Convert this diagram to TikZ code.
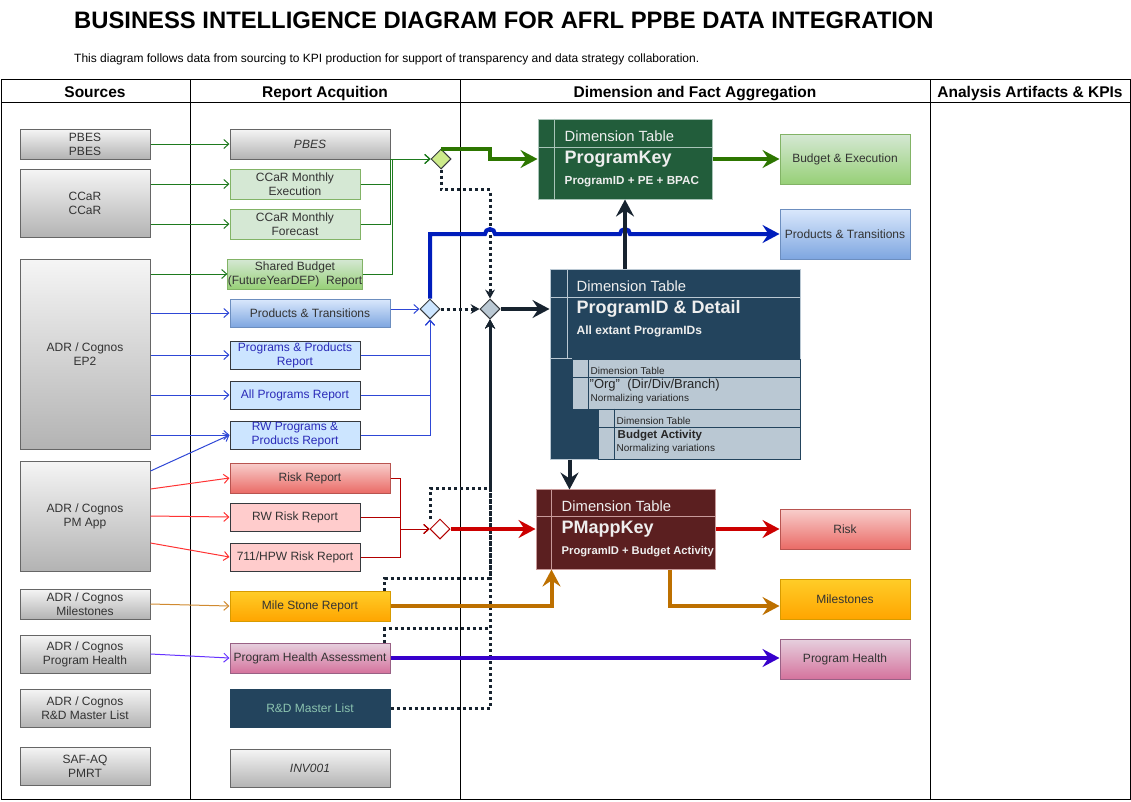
\documentclass[tikz,border=0pt]{standalone}
\usepackage{fontspec}
\setmainfont{Liberation Sans}
\usetikzlibrary{shapes.geometric,arrows.meta,calc}
\definecolor{txt}{HTML}{333333}
\definecolor{gT}{HTML}{F5F5F5}\definecolor{gB}{HTML}{B3B3B3}\definecolor{gD}{HTML}{666666}
\definecolor{grnL}{HTML}{D5E8D4}\definecolor{grnB}{HTML}{82B366}\definecolor{grnD}{HTML}{97D077}
\definecolor{bluL}{HTML}{DAE8FC}\definecolor{bluD}{HTML}{7EA6E0}\definecolor{bluB}{HTML}{6C8EBF}
\definecolor{bluP}{HTML}{CCE5FF}\definecolor{dkB}{HTML}{36393D}
\definecolor{redL}{HTML}{F8CECC}\definecolor{redD}{HTML}{EA6B66}\definecolor{redB}{HTML}{B85450}
\definecolor{redP}{HTML}{FFCCCC}
\definecolor{orL}{HTML}{FFCD28}\definecolor{orD}{HTML}{FFA500}\definecolor{orB}{HTML}{D79B00}
\definecolor{puL}{HTML}{E6D0DE}\definecolor{puD}{HTML}{D5739D}\definecolor{puB}{HTML}{996185}
\definecolor{navy}{HTML}{23445D}\definecolor{slate}{HTML}{BAC8D3}
\definecolor{pkF}{HTML}{225D3B}\definecolor{pkB}{HTML}{A9C4B8}
\definecolor{pmF}{HTML}{5B1F20}\definecolor{pmB}{HTML}{C89A9A}
\definecolor{lineG}{HTML}{1E7A1E}\definecolor{gThick}{HTML}{2D7600}
\definecolor{lineB}{HTML}{2E47D6}\definecolor{bThick}{HTML}{001DBC}
\definecolor{lineR}{HTML}{FF3333}\definecolor{redM}{HTML}{B20000}\definecolor{rThick}{HTML}{CC0000}
\definecolor{lineO}{HTML}{D08A30}\definecolor{oThick}{HTML}{BD7000}
\definecolor{lineP}{HTML}{6633FF}\definecolor{pThick}{HTML}{3700CC}
\definecolor{dark}{HTML}{17232F}\definecolor{rdTxt}{HTML}{8CC4B0}\definecolor{progTxt}{HTML}{2A2AB8}
\definecolor{dimTxt}{HTML}{EEEEEE}\definecolor{limeD}{HTML}{CDEB8B}
\newcommand{\fsA}{\fontsize{12}{14}\selectfont}
\newcommand{\fsS}{\fontsize{10}{11}\selectfont}
\begin{document}
\begin{tikzpicture}[x=1pt,y=-1pt,
  box/.style={draw, inner sep=0pt, align=center, font=\fsA, text=txt, line width=1pt},
  src/.style={box, draw=gD, top color=gT, bottom color=gB, minimum width=130pt},
  grayrep/.style={src, minimum width=160pt, font=\fsA\itshape},
  grnrep/.style={box, draw=grnB, fill=grnL, minimum width=130pt, minimum height=30pt},
  grngrad/.style={box, draw=grnB, top color=grnL, bottom color=grnD},
  blugrad/.style={box, draw=bluB, top color=bluL, bottom color=bluD},
  blurep/.style={box, draw=dkB, fill=bluP, text=progTxt, minimum width=130pt, minimum height=28pt},
  redgrad/.style={box, draw=redB, top color=redL, bottom color=redD},
  redrep/.style={box, draw=dkB, fill=redP, minimum width=130pt, minimum height=28pt},
  orgrad/.style={box, draw=orB, top color=orL, bottom color=orD},
  pugrad/.style={box, draw=puB, top color=puL, bottom color=puD},
  kpi/.style={minimum width=130pt},
  dia/.style={diamond, draw=dkB, line width=1pt, minimum width=20pt, minimum height=20pt, inner sep=0pt, aspect=1},
  thin/.style={line width=1pt, -{Straight Barb[length=5pt,width=9pt]}},
  big/.style={line width=4pt, -{Stealth[length=17pt,width=18pt,inset=6pt]}},
  dotx/.style={draw=dark, line width=3pt, dash pattern=on 3pt off 3pt, -{Stealth[length=9pt,width=10pt,inset=3pt,line width=0pt]}},
  dtxt/.style={anchor=base west, inner sep=0pt, text=dimTxt},
  ntxt/.style={anchor=base west, inner sep=0pt, text=black!85},
  hdr/.style={font=\fontsize{15.5}{18}\selectfont\bfseries, inner sep=0pt, anchor=base}
]
\useasboundingbox (0,0) rectangle (1131,801);
% title
\node[anchor=base west, inner sep=0pt, font=\fontsize{23.8}{26}\selectfont\bfseries] (title) at (74,28) {BUSINESS INTELLIGENCE DIAGRAM FOR AFRL PPBE DATA INTEGRATION};
\node[anchor=base west, inner sep=0pt, font=\fontsize{12}{14}\selectfont] (sub) at (74,62) {This diagram follows data from sourcing to KPI production for support of transparency and data strategy collaboration.};
% table
\draw[line width=1pt] (1,79) rectangle (1130,799);
\draw[line width=1pt] (1,102) -- (1130,102);
\draw[line width=1pt] (190,79) -- (190,799) (460,79) -- (460,799) (930,79) -- (930,799);
\node[hdr] (h1) at (95,97) {Sources};
\node[hdr] (h2) at (325,97) {Report Acquition};
\node[hdr] (h3) at (695,97) {Dimension and Fact Aggregation};
\node[hdr] (h4) at (1030,97) {Analysis Artifacts \& KPIs};
% sources
\node[src, minimum height=30pt] (s1) at (85,144) {PBES\\PBES};
\node[src, minimum height=68pt] (s2) at (85,203) {CCaR\\CCaR};
\node[src, minimum height=190pt] (s3) at (85,354) {ADR / Cognos\\EP2};
\node[src, minimum height=110pt] (s4) at (85,516) {ADR / Cognos\\PM App};
\node[src, minimum height=30pt] (s5) at (85,604) {ADR / Cognos\\Milestones};
\node[src, minimum height=38pt] (s6) at (85,654) {ADR / Cognos\\Program Health};
\node[src, minimum height=38pt] (s7) at (85,708) {ADR / Cognos\\R\&D Master List};
\node[src, minimum height=38pt] (s8) at (85,766) {SAF-AQ\\PMRT};
% reports
\node[grayrep, minimum height=30pt] (r1) at (310,144) {PBES};
\node[grnrep] (r2) at (295,184) {CCaR Monthly\\Execution};
\node[grnrep] (r3) at (295,224) {CCaR Monthly\\Forecast};
\node[grngrad, minimum width=130pt, minimum height=30pt] (r4) at (295,274) {Shared Budget\\(FutureYearDEP)\ \ Report};
\node[blugrad, minimum width=160pt, minimum height=28pt] (r5) at (310,313) {Products \& Transitions};
\node[blurep] (r6) at (295,355) {Programs \& Products\\Report};
\node[blurep] (r7) at (295,395) {All Programs Report};
\node[blurep] (r8) at (295,435) {RW Programs \&\\Products Report};
\node[redgrad, minimum width=160pt, minimum height=30pt] (r9) at (310,478) {Risk Report};
\node[redrep] (r10) at (295,517) {RW Risk Report};
\node[redrep] (r11) at (295,557) {711/HPW Risk Report};
\node[orgrad, minimum width=160pt, minimum height=30pt] (r12) at (310,606) {Mile Stone Report};
\node[pugrad, minimum width=160pt, minimum height=30pt] (r13) at (310,658) {Program Health Assessment};
\node[box, draw=navy, fill=navy, text=rdTxt, minimum width=160pt, minimum height=38pt] (r14) at (310,708) {R\&D Master List};
\node[grayrep, minimum height=38pt] (r15) at (310,768) {INV001};
% KPIs
\node[grngrad, kpi, minimum height=50pt] (k1) at (845,159) {Budget \& Execution};
\node[blugrad, kpi, minimum height=50pt] (k2) at (845,234) {Products \& Transitions};
\node[redgrad, kpi, minimum height=40pt] (k3) at (845,529) {Risk};
\node[orgrad, kpi, minimum height=40pt] (k4) at (845,599) {Milestones};
\node[pugrad, kpi, minimum height=40pt] (k5) at (845,659) {Program Health};
% diamonds
\node[dia, fill=limeD] (gd) at (441,159) {};
\node[dia, fill=bluP] (bd) at (430,309) {};
\node[dia, fill=slate] (cd) at (490,309) {};
\node[dia, draw=redM, fill=white] (rd) at (440,529) {};
% dimension table ProgramKey
\node[draw=pkB, fill=pkF, line width=1pt, minimum width=174pt, minimum height=80pt, inner sep=0pt] (pk) at (625,159) {};
\draw[pkB, line width=1pt] ($(pk.north west)+(17,0)$) -- ($(pk.south west)+(17,0)$);
\draw[pkB, line width=1pt] ($(pk.north west)+(0,29)$) -- ($(pk.north east)+(0,29)$);
\node[dtxt, font=\fontsize{14.8}{16}\selectfont] (pk1) at ($(pk.north west)+(27,23)$) {Dimension Table};
\node[dtxt, font=\fontsize{18}{20}\selectfont\bfseries] (pk2) at ($(pk.north west)+(27,45)$) {ProgramKey};
\node[dtxt, font=\fontsize{11.7}{14}\selectfont\bfseries] (pk3) at ($(pk.north west)+(27,66)$) {ProgramID + PE + BPAC};
% dimension table ProgramID & Detail
\node[draw=slate, fill=navy, line width=1pt, minimum width=250pt, minimum height=190pt, inner sep=0pt] (pid) at (675,364) {};
\draw[slate, line width=1pt] ($(pid.north west)+(18,0)$) -- ($(pid.north west)+(18,90)$);
\draw[slate, line width=1pt] ($(pid.north west)+(0,29)$) -- ($(pid.north east)+(0,29)$);
\draw[slate, line width=1pt] ($(pid.north west)+(0,90)$) -- ($(pid.north west)+(22,90)$);
\node[dtxt, font=\fontsize{14.8}{16}\selectfont] (pid1) at ($(pid.north west)+(27,23)$) {Dimension Table};
\node[dtxt, font=\fontsize{18}{20}\selectfont\bfseries] (pid2) at ($(pid.north west)+(27,45)$) {ProgramID \& Detail};
\node[dtxt, font=\fontsize{12}{14}\selectfont\bfseries] (pid3) at ($(pid.north west)+(27,66)$) {All extant ProgramIDs};
\node[draw=navy, fill=slate, line width=1pt, minimum width=228pt, minimum height=50pt, inner sep=0pt] (org) at (686,384) {};
\draw[navy, line width=1pt] ($(org.north west)+(17,0)$) -- ($(org.south west)+(17,0)$);
\draw[navy, line width=1pt] ($(org.north west)+(0,19)$) -- ($(org.north east)+(0,19)$);
\node[ntxt, font=\fsS] (org1) at ($(org.north west)+(19,16)$) {Dimension Table};
\node[ntxt, font=\fontsize{13}{15}\selectfont] (org2) at ($(org.north west)+(18,30)$) {"Org"\ \ (Dir/Div/Branch)};
\node[ntxt, font=\fsS] (org3) at ($(org.north west)+(19,43)$) {Normalizing variations};
\node[draw=navy, fill=slate, line width=1pt, minimum width=202pt, minimum height=50pt, inner sep=0pt] (ba) at (699,434) {};
\draw[navy, line width=1pt] ($(ba.north west)+(17,0)$) -- ($(ba.south west)+(17,0)$);
\draw[navy, line width=1pt] ($(ba.north west)+(0,19)$) -- ($(ba.north east)+(0,19)$);
\node[ntxt, font=\fsS] (ba1) at ($(ba.north west)+(19,16)$) {Dimension Table};
\node[ntxt, font=\fontsize{11.5}{14}\selectfont\bfseries] (ba2) at ($(ba.north west)+(20,30)$) {Budget Activity};
\node[ntxt, font=\fsS] (ba3) at ($(ba.north west)+(19,43)$) {Normalizing variations};
% dimension table PMappKey
\node[draw=pmB, fill=pmF, line width=1pt, minimum width=179pt, minimum height=80pt, inner sep=0pt] (pmk) at (625.5,529) {};
\draw[pmB, line width=1pt] ($(pmk.north west)+(16,0)$) -- ($(pmk.south west)+(16,0)$);
\draw[pmB, line width=1pt] ($(pmk.north west)+(0,28)$) -- ($(pmk.north east)+(0,28)$);
\node[dtxt, font=\fontsize{14.8}{16}\selectfont] (pm1) at ($(pmk.north west)+(26,23)$) {Dimension Table};
\node[dtxt, font=\fontsize{18}{20}\selectfont\bfseries] (pm2) at ($(pmk.north west)+(26,45)$) {PMappKey};
\node[dtxt, font=\fontsize{11.2}{14}\selectfont\bfseries] (pm3) at ($(pmk.north west)+(26,66)$) {ProgramID + Budget Activity};
% source -> report connectors
\draw[thin, lineG] (s1.east) -- (r1.west);
\draw[thin, lineG] (s2.east |- r2.west) -- (r2.west);
\draw[thin, lineG] (s2.east |- r3.west) -- (r3.west);
\draw[thin, lineG] (s3.east |- r4.west) -- (r4.west);
\draw[thin, lineB] (s3.east |- r5.west) -- (r5.west);
\draw[thin, lineB] (s3.east |- r6.west) -- (r6.west);
\draw[thin, lineB] (s3.east |- r7.west) -- (r7.west);
\draw[thin, lineB] (s3.east |- r8.west) -- (r8.west);
\draw[thin, lineB] ([yshift=45pt]s4.east) -- (r8.west);
\draw[thin, lineR] ([yshift=27pt]s4.east) -- (r9.west);
\draw[thin, lineR] (s4.east) -- (r10.west);
\draw[thin, lineR] ([yshift=-27pt]s4.east) -- (r11.west);
\draw[thin, lineO] (s5.east) -- (r12.west);
\draw[thin, lineP] (s6.east) -- (r13.west);
% merges
\draw[thin, lineG] (r2.east) -- ++(30,0) |- (gd.west);
\draw[thin, lineG] (r3.east) -- ++(30,0) |- (gd.west);
\draw[thin, lineG] (r4.east) -- ++(30,0) |- (gd.west);
\draw[thin, lineB] (r5.east |- bd.west) -- (bd.west);
\draw[thin, lineB] (r6.east) -| (bd.south);
\draw[thin, lineB] (r7.east) -| (bd.south);
\draw[thin, lineB] (r8.east) -| (bd.south);
\draw[thin, redM] (r9.east) -- ++(10,0) |- (rd.west);
\draw[thin, redM] (r10.east) -- ++(40,0) |- (rd.west);
\draw[thin, redM] (r11.east) -- ++(40,0) |- (rd.west);
% dotted feeds
\draw[dotx] (gd.south) -- ++(0,20) -| (cd.north);
\draw[dotx] (bd.east) -- (cd.west);
\draw[dotx] ($(rd.north)+(-10,0)$) -- ++(0,-30) -| (cd.south);
\draw[dotx] ($(r12.north east)+(-6,0)$) -- ++(0,-12) -| (cd.south);
\draw[dotx] ($(r13.north east)+(-6,0)$) -- ++(0,-14) -| (cd.south);
\draw[dotx] (r14.east) -| (cd.south);
% thick flows
\draw[big, gThick] (gd.north) -- ++(49,0) |- (pk.west);
\draw[big, gThick] (pk.east) -- (k1.west);
\draw[big, bThick, line join=miter] (bd.north) -- (bd.north |- k2.west) -- (485,234) arc[start angle=180, end angle=0, radius=5pt] -- (620,234) arc[start angle=180, end angle=0, radius=5pt] -- (k2.west);
\draw[big, dark] (cd.east) -- (pid.west |- cd.east);
\draw[big, dark] (pk.south |- pid.north) -- (pk.south);
\draw[big, dark] ($(pid.south west)+(20,0)$) -- ($(pid.south west)+(20,30)$);
\draw[big, rThick] (rd.east) -- (pmk.west);
\draw[big, rThick] (pmk.east) -- (k3.west);
\draw[big, oThick] (r12.east) -| ($(pmk.south west)+(16,0)$);
\draw[big, oThick] ($(pmk.south west)+(134,0)$) |- ([yshift=-7pt]k4.west);
\draw[big, pThick] (r13.east) -- (k5.west |- r13.east);
\end{tikzpicture}
\end{document}
